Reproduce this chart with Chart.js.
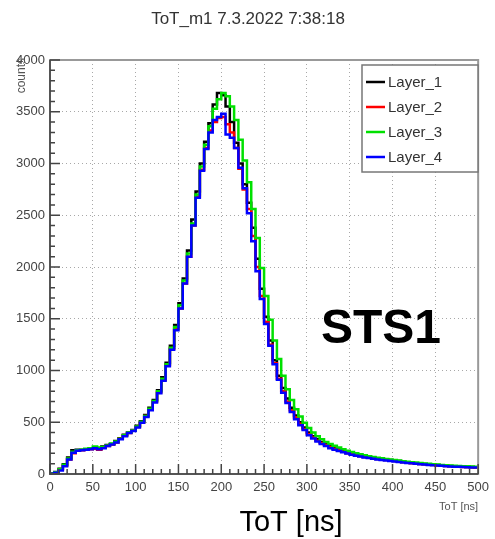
<!DOCTYPE html>
<html>
<head>
<meta charset="utf-8">
<script src="https://cdn.jsdelivr.net/npm/chart.js@4/dist/chart.umd.min.js"></script>
<style>
  html, body { margin: 0; padding: 0; background: #fff; }
  #wrap { width: 495px; height: 539px; position: relative; }
</style>
</head>
<body>
<div id="wrap"><canvas id="c" width="495" height="539"></canvas></div>
<script>
// ---- data ----
const chartTitle = "ToT_m1 7.3.2022 7:38:18";
const xTitle = "ToT [ns]";
const yTitle = "counts";
const stationLabel = "STS1";
const binStart = 0;
const binWidth = 5;
const xTicks = [0, 50, 100, 150, 200, 250, 300, 350, 400, 450, 500];
const yTicks = [0, 500, 1000, 1500, 2000, 2500, 3000, 3500, 4000];
const seriesNames = ["Layer_1", "Layer_2", "Layer_3", "Layer_4"];

const layer1 = [5,20,50,95,160,230,235,235,240,245, 250,245,265,280,290,320,345,380,400,425,
  465,510,570,640,715,810,935,1075,1240,1440, 1650,1890,2160,2460,2730,3000,3210,3390,3570,3680,
  3660,3550,3400,3200,3000,2800,2620,2380,2080,1790, 1520,1290,1100,950,830,730,640,565,500,450,
  400,365,335,310,288,268,252,236,221,206, 195,185,176,170,165,159,151,145,140,135,
  130,125,118,112,108,105,100,97,93,90, 87,84,80,77,75,73,72,70,68,66];
const layer2 = [3,15,40,80,140,200,225,230,235,240, 245,235,255,270,285,305,340,370,395,420,
  455,500,560,620,700,790,910,1050,1210,1400, 1600,1840,2100,2400,2680,2940,3150,3320,3400,3440,
  3450,3380,3300,3150,2950,2750,2560,2300,2000,1720, 1470,1250,1070,920,800,700,615,545,485,435,
  385,352,322,300,280,260,245,230,215,200, 190,180,172,165,160,153,146,140,135,130,
  125,120,114,110,105,100,96,93,90,86, 83,80,77,74,72,70,68,66,65,63];
const layer3 = [4,18,45,90,150,215,230,235,245,250, 265,255,260,275,295,315,340,375,400,420,
  460,505,560,630,705,800,920,1060,1220,1420, 1630,1870,2130,2420,2700,2970,3180,3360,3530,3620,
  3680,3650,3550,3420,3230,3030,2820,2560,2280,1990, 1720,1490,1290,1110,950,820,715,625,555,495,
  445,400,365,335,310,290,272,255,240,225, 212,200,190,180,172,165,158,152,146,140,
  135,130,124,118,113,110,106,102,98,95, 92,88,85,82,80,78,76,74,72,70];
const layer4 = [2,12,35,75,140,205,225,230,235,240, 250,240,250,270,285,305,335,365,395,415,
  450,495,550,615,690,780,900,1040,1200,1390, 1600,1840,2100,2400,2670,2930,3140,3300,3420,3450,
  3480,3280,3250,3150,2960,2760,2520,2250,1960,1690, 1450,1240,1060,910,785,685,600,530,470,425,
  375,342,315,290,270,250,235,222,210,197, 187,177,168,160,155,148,141,135,130,125,
  120,116,111,107,103,99,95,92,88,85, 82,79,76,73,71,69,67,65,63,62];
const seriesColors = ["#000000", "#ff0000", "#00e000", "#0000ff"];

// ---- build histogram step data ----
function toSteps(vals) {
  const pts = vals.map((v, i) => ({ x: binStart + i * binWidth, y: v }));
  pts.push({ x: binStart + vals.length * binWidth, y: vals[vals.length - 1] });
  return pts;
}
const allSeries = [layer1, layer2, layer3, layer4];
const datasets = allSeries.map((vals, i) => ({
  label: seriesNames[i],
  data: toSteps(vals),
  borderColor: seriesColors[i],
  backgroundColor: seriesColors[i],
  borderWidth: 2.5,
  pointRadius: 0,
  stepped: true,
  fill: false,
  order: 4 - i
}));

const FONT = "'Liberation Sans', Arial, Helvetica, sans-serif";

const decor = {
  id: 'decor',
  afterDraw(chart) {
    const ctx = chart.ctx;
    const a = chart.chartArea;
    const xs = chart.scales.x, ys = chart.scales.y;
    ctx.save();
    // frame
    ctx.strokeStyle = '#999';
    ctx.lineWidth = 2;
    ctx.strokeRect(a.left, a.top, a.right - a.left, a.bottom - a.top);
    ctx.strokeStyle = '#555';
    ctx.lineWidth = 2;
    ctx.beginPath();
    ctx.moveTo(a.left, a.top); ctx.lineTo(a.left, a.bottom); ctx.lineTo(a.right, a.bottom);
    ctx.stroke();
    // minor/major ticks
    ctx.strokeStyle = '#444';
    ctx.lineWidth = 1.5;
    ctx.beginPath();
    for (let v = 0; v <= 4000; v += 100) {
      const y = ys.getPixelForValue(v);
      const len = (v % 500 === 0) ? 10 : 5;
      ctx.moveTo(a.left, y); ctx.lineTo(a.left + len, y);
    }
    for (let v = 0; v <= 500; v += 10) {
      const x = xs.getPixelForValue(v);
      const len = (v % 50 === 0) ? 10 : 5;
      ctx.moveTo(x, a.bottom); ctx.lineTo(x, a.bottom - len);
    }
    ctx.stroke();

    // title
    ctx.fillStyle = '#333';
    ctx.font = '17px ' + FONT;
    ctx.textAlign = 'center';
    ctx.textBaseline = 'alphabetic';
    ctx.fillText(chartTitle, 248, 24);

    // small x axis title
    ctx.fillStyle = '#555';
    ctx.font = '11px ' + FONT;
    ctx.textAlign = 'right';
    ctx.fillText(xTitle, a.right, 510);

    // y axis title
    ctx.save();
    ctx.translate(25, a.top - 2);
    ctx.rotate(-Math.PI / 2);
    ctx.textAlign = 'right';
    ctx.fillStyle = '#555';
    ctx.font = '12px ' + FONT;
    ctx.fillText(yTitle, 0, 0);
    ctx.restore();

    // big x title
    ctx.fillStyle = '#000';
    ctx.font = '29px ' + FONT;
    ctx.textAlign = 'center';
    ctx.fillText(xTitle, 291, 531);

    // station label
    ctx.font = 'bold 48px ' + FONT;
    ctx.fillText(stationLabel, 381, 343);

    // legend box
    const bx = 362, by = 65, bw = 116, bh = 107;
    ctx.fillStyle = '#fff';
    ctx.fillRect(bx, by, bw, bh);
    ctx.strokeStyle = '#777';
    ctx.lineWidth = 1.5;
    ctx.strokeRect(bx, by, bw, bh);
    ctx.font = '15px ' + FONT;
    ctx.textAlign = 'left';
    ctx.textBaseline = 'middle';
    seriesNames.forEach((name, i) => {
      const y = 82 + i * 25;
      ctx.strokeStyle = seriesColors[i];
      ctx.lineWidth = 2.5;
      ctx.beginPath(); ctx.moveTo(366, y); ctx.lineTo(385, y); ctx.stroke();
      ctx.fillStyle = '#333';
      ctx.fillText(name, 388, y + 1);
    });
    ctx.restore();
  }
};

new Chart(document.getElementById('c'), {
  type: 'line',
  data: { datasets },
  options: {
    responsive: false,
    animation: false,
    devicePixelRatio: 1,
    layout: { padding: { top: 60, right: 16, left: 0, bottom: 0 } },
    plugins: { legend: { display: false }, tooltip: { enabled: false }, title: { display: false } },
    scales: {
      x: {
        type: 'linear', min: 0, max: 500,
        afterFit(s) { s.height = 65; },
        afterBuildTicks(s) { s.ticks = xTicks.map(v => ({ value: v })); },
        ticks: { color: '#444', font: { family: FONT, size: 13 }, padding: 6, maxRotation: 0, autoSkip: false,
                 callback: v => String(v) },
        grid: { color: '#a8a8a8', lineWidth: 1, drawTicks: false },
        border: { display: false, dash: [1, 3] }
      },
      y: {
        type: 'linear', min: 0, max: 4000,
        afterFit(s) { s.width = 50; },
        afterBuildTicks(s) { s.ticks = yTicks.map(v => ({ value: v })); },
        ticks: { color: '#444', font: { family: FONT, size: 13 }, padding: 5, autoSkip: false,
                 callback: v => String(v) },
        grid: { color: '#a8a8a8', lineWidth: 1, drawTicks: false },
        border: { display: false, dash: [1, 3] }
      }
    }
  },
  plugins: [decor]
});
</script>
</body>
</html>
